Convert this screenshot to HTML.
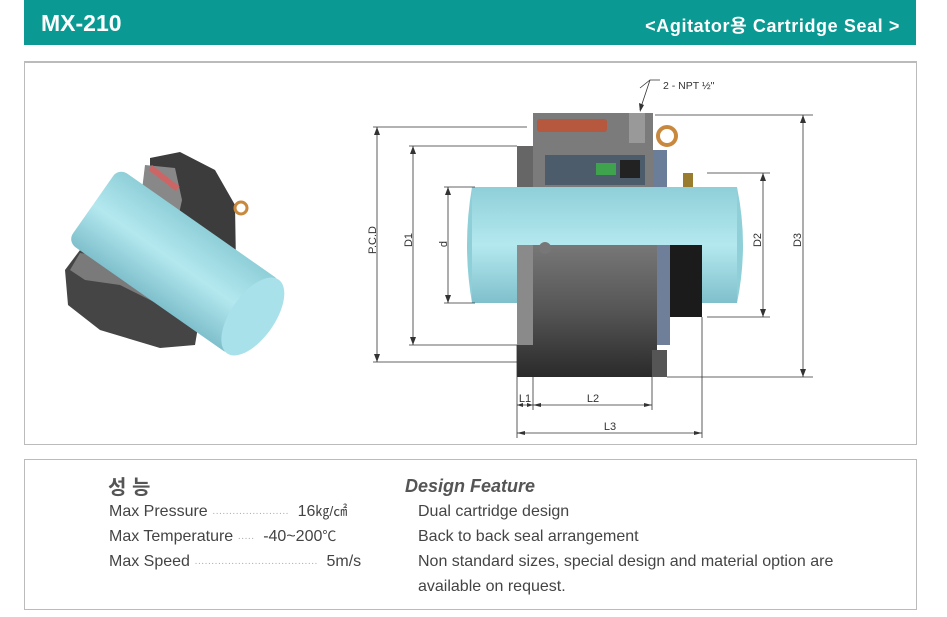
<!DOCTYPE html>
<html><head><meta charset="utf-8"><style>
body{margin:0;width:947px;height:617px;background:#fff;position:relative;overflow:hidden;font-family:"Liberation Sans","Noto Sans CJK KR",sans-serif}
.hdr{position:absolute;left:24px;top:0;width:892px;height:45px;background:#0b9a93;color:#fff;font-weight:bold}
.p{position:absolute;border:1px solid #bbb;box-sizing:border-box}
.t{position:absolute;font-size:16px;color:#444;white-space:nowrap;line-height:20px;height:20px}
.u{font-size:14px;line-height:14px}
</style></head><body>
<div class="hdr"><span style="position:absolute;left:17px;top:9px;font-size:23px;line-height:28px">MX-210</span><span style="position:absolute;right:16px;top:14px;font-size:18px;line-height:24px;letter-spacing:0.6px">&lt;Agitator용 Cartridge Seal &gt;</span></div>
<div class="p" style="left:24px;top:61px;width:893px;height:384px;border-top:2px solid #bbb"></div>
<div class="p" style="left:24px;top:459px;width:893px;height:151px"></div>
<svg style="position:absolute;left:0;top:0" width="947" height="617">
<defs>
<linearGradient id="sh" x1="0" y1="0" x2="0" y2="1"><stop offset="0" stop-color="#8fcfd8"/><stop offset="0.5" stop-color="#b4e8ef"/><stop offset="1" stop-color="#7fc0cc"/></linearGradient>
<linearGradient id="bd" x1="0" y1="0" x2="0" y2="1"><stop offset="0" stop-color="#777"/><stop offset="0.5" stop-color="#555"/><stop offset="1" stop-color="#2a2a2a"/></linearGradient>
</defs>
<!-- left 3D -->
<polygon points="150,158 180,152 215,170 235,205 236,265 220,285 200,260 175,230 150,205" fill="#3c3c3c"/>
<polygon points="145,165 175,168 182,200 175,232 155,222 142,190" fill="#888"/>
<rect x="152" y="165" width="35" height="6" fill="#c66" transform="rotate(38 152 165)"/>
<circle cx="241" cy="208" r="6" fill="none" stroke="#c8893f" stroke-width="3"/>
<polygon points="65,270 80,250 130,258 170,295 200,315 195,345 160,348 100,330 68,305" fill="#454545"/>
<polygon points="70,270 80,253 130,260 165,292 160,305 120,285 85,280" fill="#7a7a7a"/>
<g transform="rotate(35 175 262)">
<rect x="75" y="217" width="200" height="90" rx="10" fill="url(#sh)"/>
<ellipse cx="270" cy="262" rx="22" ry="45" fill="#a9e1ea"/>
</g>
<!-- right drawing -->
<rect x="472" y="187" width="265" height="116" fill="url(#sh)"/>
<path d="M472,187 q-10,58 0,116" fill="#8fcfd8"/>
<path d="M737,187 q12,58 0,116" fill="#8fcfd8"/>
<rect x="533" y="113" width="120" height="74" fill="#7b7b7b"/>
<rect x="517" y="146" width="16" height="41" fill="#666"/>
<rect x="537" y="119" width="70" height="13" rx="3" fill="#b5583e"/>
<rect x="629" y="113" width="16" height="30" fill="#999"/>
<circle cx="667" cy="136" r="9" fill="none" stroke="#c8893f" stroke-width="4"/>
<rect x="545" y="155" width="100" height="30" fill="#4c5c6a"/>
<rect x="596" y="163" width="20" height="12" fill="#3fa34d"/>
<rect x="620" y="160" width="20" height="18" fill="#222"/>
<rect x="653" y="150" width="14" height="37" fill="#6a7d99"/>
<rect x="683" y="173" width="10" height="14" fill="#9a7c2f"/>
<rect x="517" y="245" width="140" height="132" fill="url(#bd)"/>
<rect x="517" y="245" width="16" height="100" fill="#8a8a8a"/>
<rect x="657" y="245" width="13" height="100" fill="#6f7f9a"/>
<rect x="670" y="245" width="32" height="72" fill="#1b1b1b"/>
<rect x="652" y="350" width="15" height="27" fill="#555"/>
<circle cx="545" cy="248" r="6" fill="#777"/>
<g stroke="#333" stroke-width="0.8" fill="none">
<path d="M373,127 H527 M409,146 H517 M444,187 H475 M444,303 H475 M409,345 H517 M373,362 H533 M655,115 H813 M707,173 H770 M707,317 H770 M667,377 H813 M517,345 V438 M533,377 V410 M652,377 V410 M702,317 V438 M640,88 L650,80 H660"/>
<path d="M377,127 V362 M413,146 V345 M448,187 V303 M763,173 V317 M803,115 V377 M517,405 H533 M533,405 H652 M517,433 H702 M650,80 L640,110"/>
</g>
<g fill="#333">
<path d="M377,127 l-3,8 h6z M377,362 l-3,-8 h6z M413,146 l-3,8 h6z M413,345 l-3,-8 h6z M448,187 l-3,8 h6z M448,303 l-3,-8 h6z M763,173 l-3,8 h6z M763,317 l-3,-8 h6z M803,115 l-3,8 h6z M803,377 l-3,-8 h6z M640,112 l-1,-9 5,2z"/>
<path d="M517,405 l6,-2 v4z M533,405 l-6,-2 v4z M533,405 l8,-2 v4z M652,405 l-8,-2 v4z M517,433 l8,-2 v4z M702,433 l-8,-2 v4z"/>
</g>
<g font-family="Liberation Sans,sans-serif" font-size="11" fill="#333" text-anchor="middle">
<text x="663" y="89" text-anchor="start" font-size="10.5">2 - NPT ½"</text>
<text transform="translate(376,240) rotate(-90)">P.C.D</text>
<text transform="translate(412,240) rotate(-90)">D1</text>
<text transform="translate(447,244) rotate(-90)">d</text>
<text transform="translate(761,240) rotate(-90)">D2</text>
<text transform="translate(801,240) rotate(-90)">D3</text>
<text x="525" y="402">L1</text>
<text x="593" y="402">L2</text>
<text x="610" y="430">L3</text>
</g>
</svg>
<div class="t" style="left:108px;top:476px;font-size:20px;font-weight:bold;color:#555;height:24px;line-height:24px">성 능</div>
<div class="t" style="left:109px;top:502px">Max Pressure <span style="color:#aaa;font-size:10px">·······················</span>&nbsp; 16<span class="u">㎏/㎠</span></div>
<div class="t" style="left:109px;top:527px">Max Temperature <span style="color:#aaa;font-size:10px">·····</span>&nbsp; -40~200<span class="u">℃</span></div>
<div class="t" style="left:109px;top:552px">Max Speed <span style="color:#aaa;font-size:10px">·····································</span>&nbsp; 5m/s</div>
<div class="t" style="left:405px;top:476px;font-size:18px;font-style:italic;font-weight:bold;color:#555">Design Feature</div>
<div class="t" style="left:418px;top:502px">Dual cartridge design</div>
<div class="t" style="left:418px;top:527px">Back to back seal arrangement</div>
<div class="t" style="left:418px;top:552px">Non standard sizes, special design and material option are</div>
<div class="t" style="left:418px;top:577px">available on request.</div>
</body></html>
